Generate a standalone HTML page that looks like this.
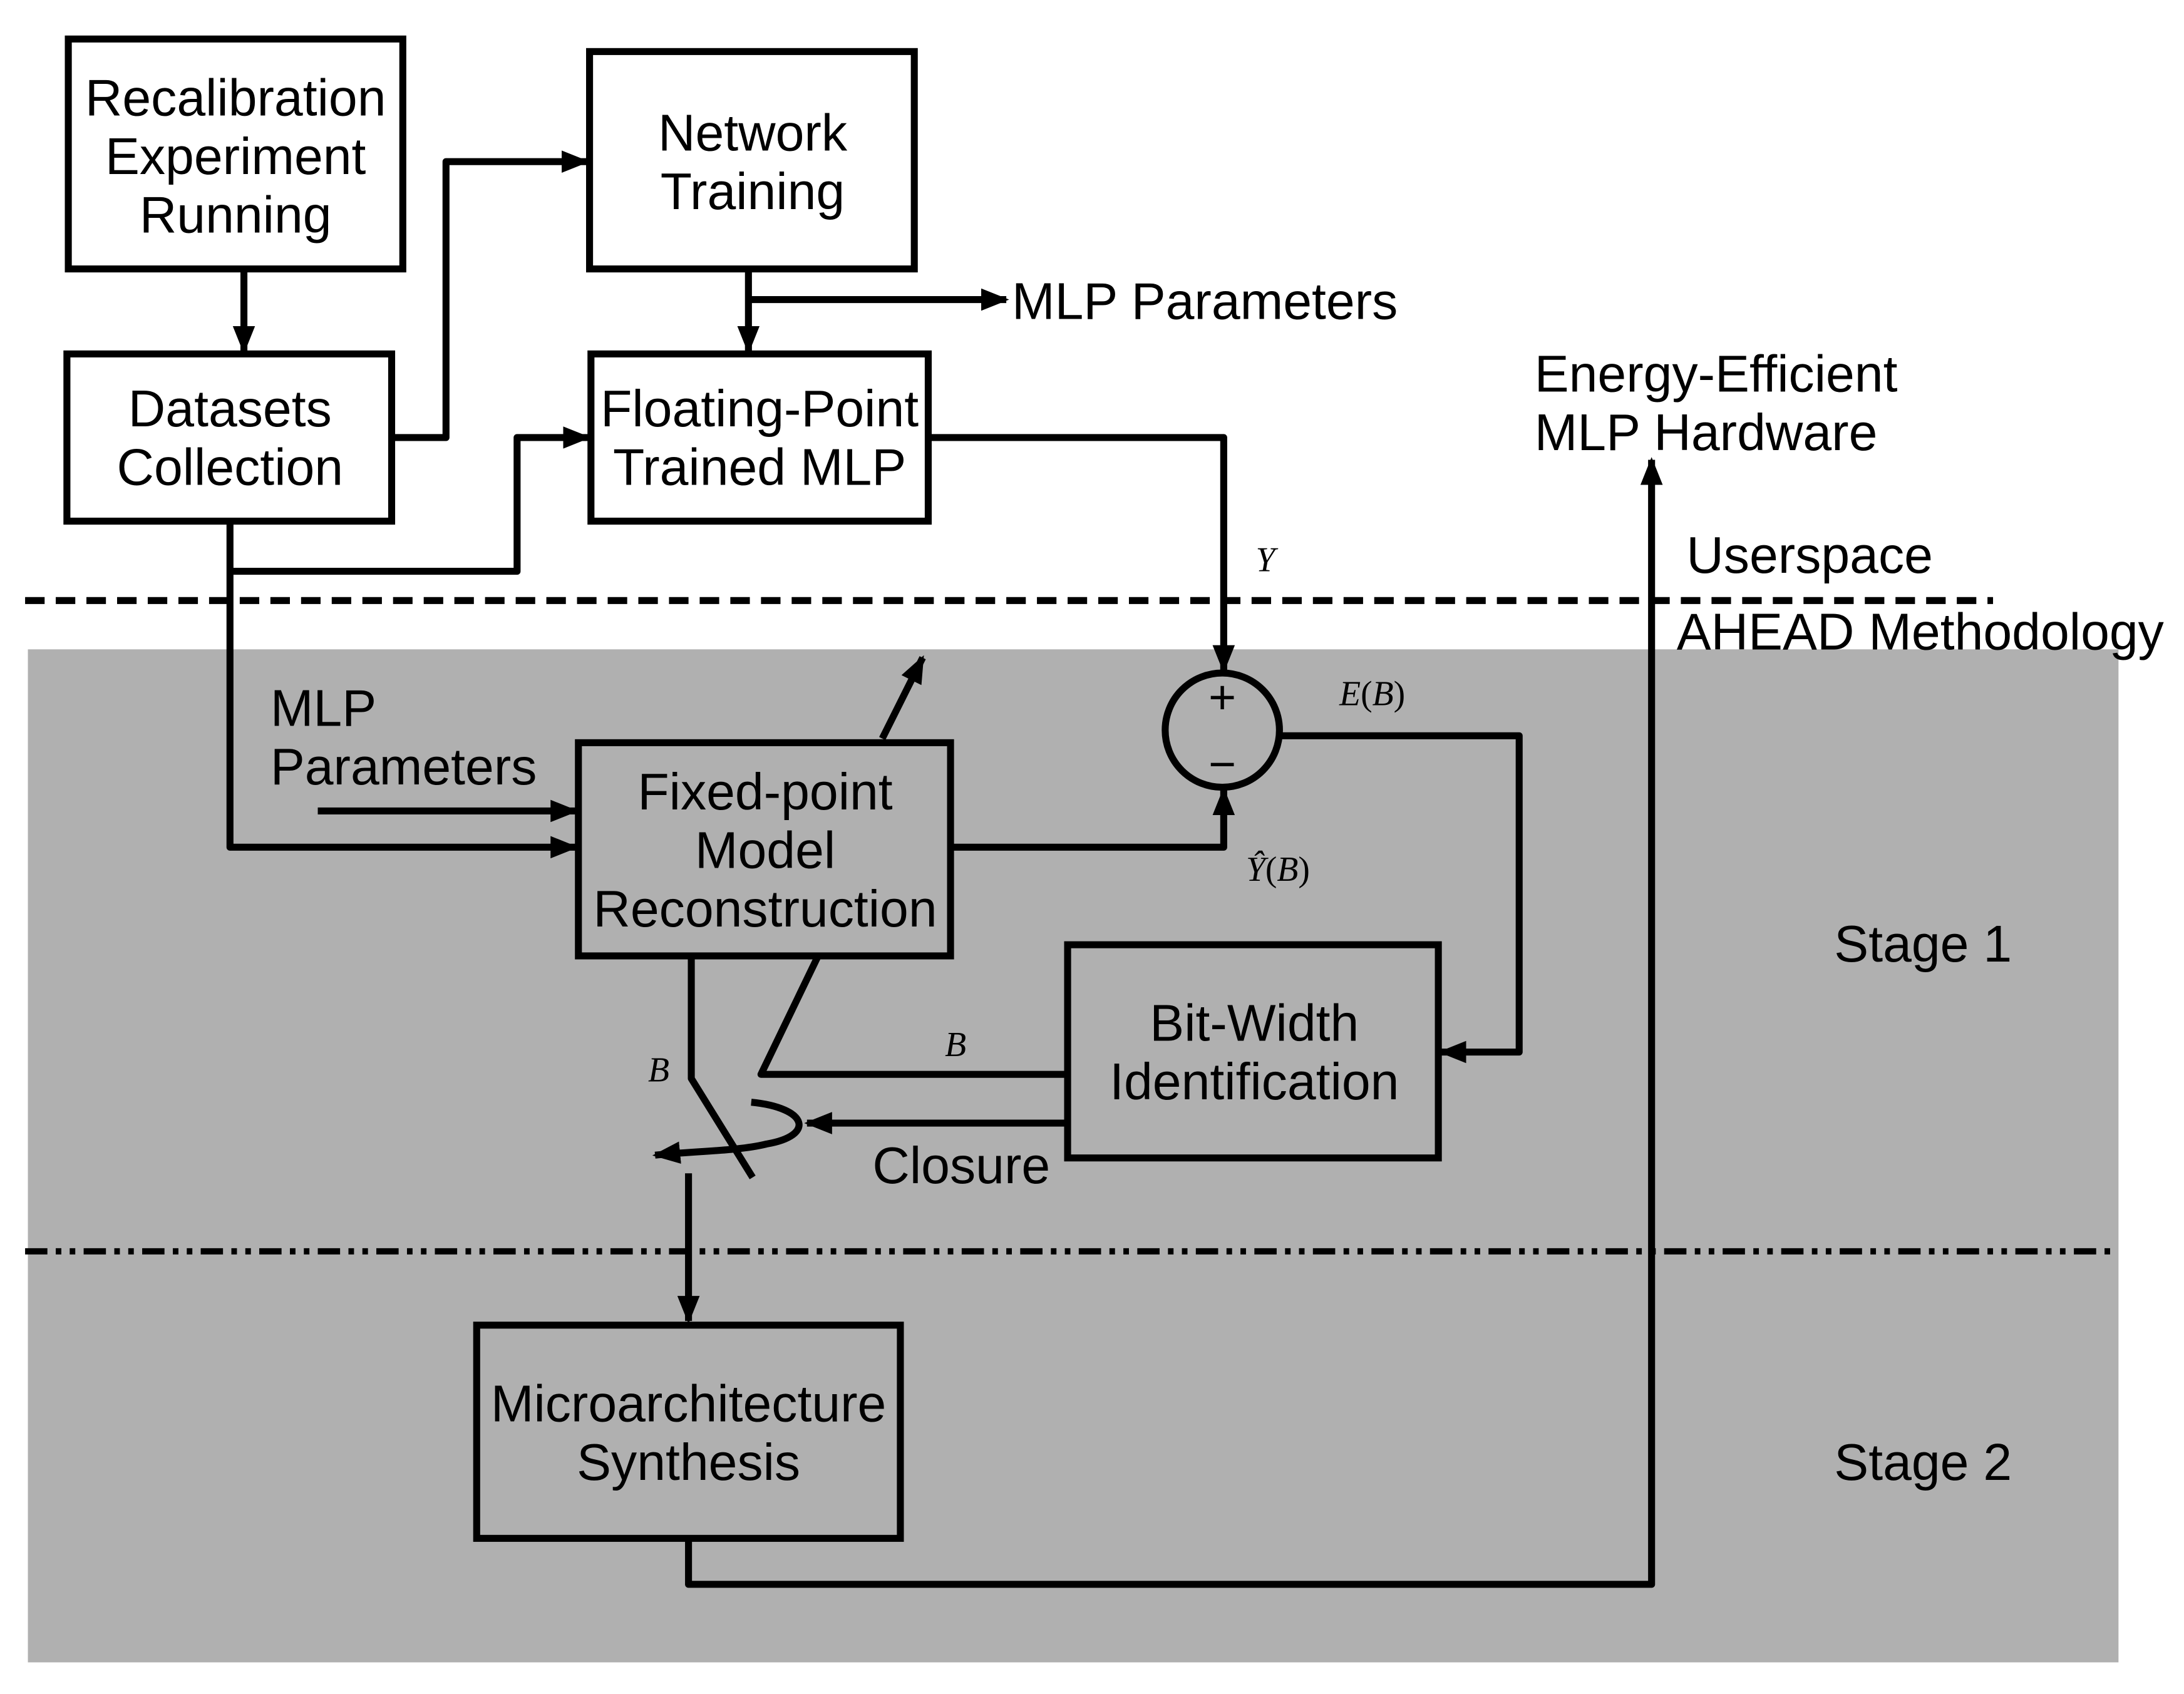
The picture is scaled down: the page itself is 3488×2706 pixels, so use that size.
<!DOCTYPE html>
<html><head><meta charset="utf-8"><style>
html,body{margin:0;padding:0;background:#fff;}
svg{display:block;}
text{font-family:"Liberation Sans",sans-serif;font-size:37px;fill:#000;}
.m{font-family:"Liberation Serif",serif;font-size:25px;}
.i{font-style:italic;}
</style></head><body>
<svg width="3488" height="2706" viewBox="0 0 1567 1215.7" xmlns="http://www.w3.org/2000/svg">
<defs>
<marker id="a" markerWidth="20" markerHeight="16" refX="18" refY="8" orient="auto" markerUnits="userSpaceOnUse">
<path d="M0,0 L20,8 L0,16 Z" fill="#000"/></marker>
</defs>
<rect x="20" y="466" width="1500" height="727" fill="#b0b0b0"/>
<line x1="18" y1="431" x2="1430" y2="431" stroke="#000" stroke-width="5" stroke-dasharray="14,8"/>
<line x1="18" y1="898" x2="1518" y2="898" stroke="#000" stroke-width="4.5" stroke-dasharray="16,6,4,6,4,6"/>
<g fill="none" stroke="#000" stroke-width="5">
<rect x="49" y="28" width="240" height="165"/>
<rect x="423" y="37" width="233" height="156"/>
<rect x="48" y="254" width="233" height="120"/>
<rect x="424" y="254" width="242" height="120"/>
<rect x="415" y="533" width="267" height="153"/>
<rect x="766" y="678" width="266" height="153"/>
<rect x="342" y="951" width="304" height="153"/>
<circle cx="877" cy="524" r="41"/>
</g>
<g fill="none" stroke="#000" stroke-width="5" stroke-linejoin="round">
<path d="M175,193 V252" marker-end="url(#a)"/>
<path d="M281,314 H320 V116 H421" marker-end="url(#a)"/>
<path d="M537,193 V252" marker-end="url(#a)"/>
<path d="M537,215 H722" marker-end="url(#a)"/>
<path d="M165,374 V608 H413" marker-end="url(#a)"/>
<path d="M165,410 H371 V314 H422" marker-end="url(#a)"/>
<path d="M228,582 H413" marker-end="url(#a)"/>
<path d="M666,314 H878 V481" marker-end="url(#a)"/>
<path d="M682,608 H878 V567" marker-end="url(#a)"/>
<path d="M919,528 H1090 V755 H1034" marker-end="url(#a)"/>
<path d="M633,530 L662,472" marker-end="url(#a)"/>
<path d="M496,686 V774 L540,845"/>
<path d="M587,686 L546,771 H766"/>
<path d="M766,806 H579" marker-end="url(#a)"/>
<path d="M539,791 C580,795 585,815 550,821 C530,826 500,826 470,829" marker-end="url(#a)"/>
<path d="M494,842 V948" marker-end="url(#a)"/>
<path d="M494,1104 V1137 H1185 V330" marker-end="url(#a)"/>
</g>
<g text-anchor="middle">
<text x="169" y="83">Recalibration</text>
<text x="169" y="125">Experiment</text>
<text x="169" y="167">Running</text>
<text x="540" y="108">Network</text>
<text x="540" y="150">Training</text>
<text x="165" y="306">Datasets</text>
<text x="165" y="348">Collection</text>
<text x="545" y="306">Floating-Point</text>
<text x="545" y="348">Trained MLP</text>
<text x="549" y="581">Fixed-point</text>
<text x="549" y="623">Model</text>
<text x="549" y="665">Reconstruction</text>
<text x="900" y="747">Bit-Width</text>
<text x="900" y="789">Identification</text>
<text x="494" y="1020">Microarchitecture</text>
<text x="494" y="1062">Synthesis</text>
<text x="877" y="512" style="font-size:34px">+</text>
<text x="877" y="560" style="font-size:34px">−</text>
</g>
<text x="726" y="229">MLP Parameters</text>
<text x="194" y="521">MLP</text>
<text x="194" y="563">Parameters</text>
<text x="1101" y="281">Energy-Efficient</text>
<text x="1101" y="323">MLP Hardware</text>
<text x="1210" y="411">Userspace</text>
<text x="1203" y="466">AHEAD Methodology</text>
<text x="1316" y="690">Stage 1</text>
<text x="1316" y="1062">Stage 2</text>
<text x="626" y="849">Closure</text>
<text class="m i" x="901" y="410">Y</text>
<text class="m" x="961" y="506"><tspan class="i">E</tspan>(<tspan class="i">B</tspan>)</text>
<text class="m" x="894" y="632"><tspan class="i">Ŷ</tspan>(<tspan class="i">B</tspan>)</text>
<text class="m i" x="678" y="758">B</text>
<text class="m i" x="465" y="776">B</text>
</svg>
</body></html>
